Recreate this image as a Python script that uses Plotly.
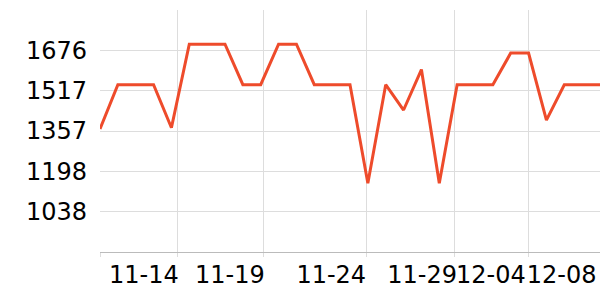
import plotly.graph_objects as go

# Data (daily, 11-10 .. 12-08)
dates = ["11-10", "11-11", "11-12", "11-13", "11-14", "11-15", "11-16", "11-17",
         "11-18", "11-19", "11-20", "11-21", "11-22", "11-23", "11-24", "11-25",
         "11-26", "11-27", "11-28", "11-29", "11-30", "12-01", "12-02", "12-03",
         "12-04", "12-05", "12-06", "12-07", "12-08"]
values = [1365, 1540, 1540, 1540, 1370, 1700, 1700, 1700, 1540, 1540, 1700, 1700,
          1540, 1540, 1540, 1150, 1540, 1440, 1600, 1150, 1540, 1540, 1540, 1665,
          1665, 1400, 1540, 1540, 1540]

x_tick_labels = ["11-14", "11-19", "11-24", "11-29", "12-04", "12-08"]
y_tick_vals = [1038, 1197.5, 1357, 1516.5, 1676]
y_tick_text = ["1038", "1198", "1357", "1517", "1676"]

# layout constants (axis positions in index units)
label_pos = [2.46, 7.27, 12.95, 18.04, 21.89, 25.85]
grid_pos = [0, 4.33, 9.13, 14.93, 19.84, 23.98, 28]

idx = list(range(len(dates)))

fig = go.Figure()
fig.add_trace(go.Scatter(
    x=idx, y=values, mode="lines", text=dates,
    line=dict(color="#EE4B2B", width=3),
    hoverinfo="text+y",
))

font = dict(family="DejaVu Sans", size=24, color="#000000")

fig.update_layout(
    width=600, height=300,
    margin=dict(l=100, r=0, t=10, b=48),
    paper_bgcolor="white", plot_bgcolor="white",
    showlegend=False,
    xaxis=dict(
        range=[0, 28], tickmode="array", tickvals=label_pos, ticktext=x_tick_labels,
        tickangle=0, automargin=False,
        showgrid=False, ticks="", tickfont=font, zeroline=False,
        showline=True, linecolor="#BBBBBB", linewidth=1,
        ticklabelstandoff=1,
        minor=dict(tickmode="array", tickvals=grid_pos, showgrid=True,
                   gridcolor="#DDDDDD", gridwidth=1, ticks="outside",
                   ticklen=4, tickcolor="#DDDDDD", tickwidth=1),
    ),
    yaxis=dict(
        range=[878.5, 1835.5], tickmode="array", tickvals=y_tick_vals,
        ticktext=y_tick_text, showgrid=True, gridcolor="#DDDDDD", gridwidth=1,
        zeroline=False, showline=False, ticks="", tickfont=font, automargin=False,
        ticklabelstandoff=12,
    ),
)

fig.write_html("out.html")
